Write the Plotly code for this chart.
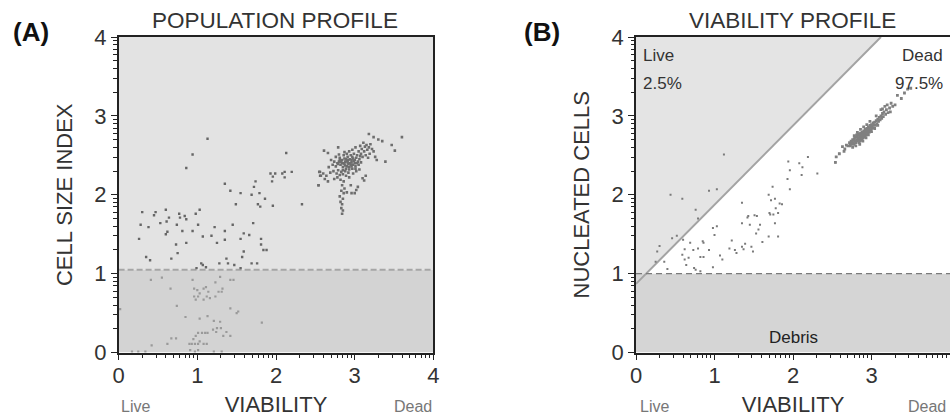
import plotly.graph_objects as go
import math

# ---------------- DATA ----------------
# Panel A : POPULATION PROFILE  (viability vs cell size index)
a_cluster_x = [2.78,2.80,2.82,2.84,2.86,2.88,2.90,2.92,2.94,2.96,2.98,3.00,3.02,3.04,2.85,2.87,2.89,2.91,2.93,2.95,
               2.97,2.99,3.01,3.03,3.06,3.08,3.10,3.12,3.14,3.16,2.76,2.74,2.72,2.70,2.79,2.81,2.83,2.86,2.88,2.90,
               2.92,2.94,2.96,2.98,3.00,2.84,2.88,2.92,2.96,3.05,3.09,3.13,3.18,3.20,3.07,3.11,3.15,3.22,3.24,3.19,
               3.17,3.05,3.08,2.93,2.97,3.01,2.87,2.80,2.76,2.73,2.77,2.81,2.85,2.89,2.93,2.98,3.02,3.06,2.69,2.67,
               2.82,2.86,2.84,2.87,2.83,2.86,2.81,2.85,2.82,2.84,2.83,2.85,2.84,2.90,2.96,3.00,3.02,3.04,2.95,3.10,
               3.12,3.14,2.78,2.74,2.64,2.60,2.57,2.55,2.54,2.62,2.66,
               3.60,3.47,3.51,3.39,3.35,3.18,3.24,3.30,3.26,3.28,2.61,2.79,2.66,
               2.83,2.91,2.99,2.87,2.95,3.03,2.79,2.89,2.97,2.85,2.93,3.01,2.81,2.90,3.07]
a_cluster_y = [2.40,2.42,2.38,2.44,2.40,2.37,2.43,2.39,2.45,2.41,2.38,2.44,2.47,2.42,2.35,2.46,2.33,2.48,2.35,2.50,
               2.33,2.52,2.36,2.50,2.45,2.52,2.48,2.55,2.50,2.57,2.36,2.42,2.38,2.44,2.31,2.47,2.29,2.50,2.30,2.52,
               2.28,2.40,2.36,2.46,2.40,2.40,2.42,2.44,2.44,2.55,2.58,2.61,2.60,2.64,2.62,2.66,2.63,2.58,2.55,2.52,
               2.47,2.38,2.41,2.55,2.57,2.60,2.54,2.51,2.48,2.30,2.27,2.25,2.26,2.24,2.22,2.27,2.30,2.32,2.28,2.35,
               2.19,2.17,2.12,2.08,2.05,2.02,1.98,1.95,1.91,1.88,1.83,1.80,1.76,2.03,2.02,2.02,2.06,2.10,2.12,2.21,
               2.18,2.24,2.22,2.20,2.24,2.27,2.24,2.29,2.12,2.20,2.17,
               2.73,2.63,2.56,2.42,2.68,2.77,2.73,2.70,2.48,2.44,2.56,2.60,2.53,
               2.42,2.41,2.43,2.39,2.38,2.40,2.39,2.45,2.48,2.31,2.32,2.33,2.44,2.36,2.49]

a_upper_x = [1.13,0.94,0.86,1.35,1.42,1.55,1.49,1.74,1.72,1.69,1.79,1.77,1.80,1.86,1.96,1.93,1.96,1.99,1.95,2.08,
             2.11,2.11,2.20,2.13,2.33,2.54,2.56,2.56,
             0.30,0.47,0.45,0.60,0.64,0.61,0.77,0.78,0.84,0.86,0.98,1.03,0.53,0.28,0.38,0.74,1.01,1.22,1.45,1.71,
             0.26,0.60,0.62,0.67,0.75,0.73,0.81,0.94,0.86,1.07,1.18,1.25,1.35,1.35,1.59,1.55,1.66,1.81,1.81,1.84,
             1.88,1.59,1.57,0.35,0.40,1.05,1.07,1.28,1.37,1.39,1.47,1.55,1.69,1.76,0.99,1.11]
a_upper_y = [2.71,2.51,2.34,2.14,2.05,2.02,1.88,2.17,2.10,2.00,2.02,1.88,1.85,1.95,1.86,2.27,2.23,2.27,2.17,2.27,
             2.29,2.22,2.29,2.53,1.88,2.12,2.29,2.24,
             1.78,1.78,1.74,1.81,1.71,1.66,1.76,1.71,1.73,1.69,1.76,1.81,1.64,1.62,1.59,1.62,1.62,1.59,1.62,1.64,
             1.44,1.50,1.53,1.19,1.26,1.37,1.54,1.54,1.39,1.47,1.48,1.39,1.54,1.43,1.51,1.44,1.49,1.44,1.37,1.30,
             1.30,1.28,1.21,1.21,1.17,1.13,1.11,1.13,1.19,1.13,1.11,1.07,1.13,1.13,1.07,1.08]

a_debris_x = [0.41,0.55,0.66,0.74,0.85,0.94,0.96,1.00,1.01,1.08,1.11,1.14,1.03,1.08,1.12,1.16,1.23,1.27,1.31,1.32,
              1.23,1.29,1.42,1.46,1.52,1.50,1.42,1.03,1.13,1.21,1.29,1.25,1.20,1.24,1.30,1.33,1.37,1.42,1.01,1.06,
              1.10,1.13,0.98,0.95,0.93,0.90,0.97,1.01,1.08,1.12,1.03,0.91,0.97,1.01,1.21,1.31,0.67,0.62,0.42,0.25,
              0.34,0.17,0.02,0.73,1.82,0.96,0.98]
a_debris_y = [0.92,0.95,0.81,0.59,0.45,0.92,0.81,0.79,0.71,0.81,0.83,0.77,0.75,0.67,0.71,0.69,0.71,0.77,0.77,0.81,
              0.89,0.96,0.92,0.92,0.52,0.50,0.56,0.43,0.46,0.40,0.39,0.31,0.29,0.26,0.31,0.21,0.26,0.21,0.25,0.25,
              0.25,0.25,0.21,0.17,0.11,0.11,0.11,0.11,0.11,0.11,0.14,0.03,0.01,0.03,0.01,0.01,0.18,0.11,0.09,0.01,
              0.01,0.01,0.55,0.18,0.38,0.71,0.67]

a_gate_y = 1.05  # size threshold

# Panel B : VIABILITY PROFILE  (viability vs nucleated cells)
b_cluster_x = [2.70,2.72,2.73,2.74,2.75,2.76,2.77,2.78,2.78,2.79,2.80,2.80,2.81,2.82,2.82,2.83,2.84,2.84,2.85,2.86,
               2.86,2.87,2.88,2.88,2.89,2.90,2.90,2.91,2.92,2.92,2.93,2.94,2.94,2.95,2.96,2.96,2.97,2.98,2.98,2.99,
               3.00,3.00,3.01,3.02,3.02,3.03,3.04,3.05,3.06,3.07,3.08,3.09,3.10,3.11,3.12,3.13,3.14,3.15,3.16,3.18,
               3.19,3.21,3.23,2.83,2.85,2.87,2.89,2.91,2.93,2.95,2.97,2.99,2.86,2.88,2.90,2.92,2.94,2.96,2.81,2.79,
               2.77,2.75,2.73,2.63,2.59,2.55,2.54,2.66,2.68,2.65,3.27,3.30,3.33,3.38,3.46,3.50,3.42,3.25,3.20,3.17,
               3.14,3.12,3.06,3.24,
               2.80,2.84,2.88,2.92,2.96,3.00,2.78,2.82,2.86,2.90,2.94,2.98,2.76,2.85,2.89,2.93,3.04,3.08]
b_cluster_y = [2.62,2.66,2.62,2.68,2.64,2.70,2.66,2.64,2.71,2.68,2.73,2.66,2.70,2.74,2.68,2.72,2.76,2.70,2.73,2.78,
               2.71,2.75,2.79,2.73,2.77,2.81,2.75,2.79,2.83,2.77,2.81,2.84,2.79,2.82,2.86,2.80,2.84,2.88,2.82,2.86,
               2.89,2.84,2.87,2.91,2.85,2.89,2.92,2.88,2.94,2.90,2.96,2.93,2.98,2.95,3.00,2.97,3.03,2.99,3.05,3.02,
               3.08,3.04,3.10,2.77,2.68,2.70,2.72,2.74,2.76,2.78,2.79,2.81,2.76,2.76,2.78,2.80,2.82,2.83,2.76,2.73,
               2.69,2.67,2.65,2.61,2.52,2.48,2.41,2.58,2.63,2.55,3.12,3.14,3.26,3.22,3.34,3.35,3.29,3.16,3.14,3.12,
               3.09,3.08,3.00,3.05,
               2.62,2.66,2.69,2.73,2.76,2.80,2.75,2.79,2.83,2.86,2.89,2.93,2.60,2.64,2.68,2.72,2.84,2.88]

b_scatter_x = [1.12,0.44,0.59,0.76,0.93,1.03,0.79,
               1.35,1.42,1.51,1.74,1.69,1.72,1.77,1.83,1.86,1.78,1.81,1.71,1.94,1.96,1.93,1.96,2.08,2.12,2.11,2.19,
               2.31,2.54,2.55,2.59,0.98,1.03,1.00,1.43,1.35,1.45,1.54,1.58,1.56,1.53,1.61,1.69,1.75,1.70,1.81,1.77,
               0.30,0.27,0.25,0.36,0.40,0.46,0.52,0.60,0.62,0.59,0.62,0.67,0.64,0.69,0.73,0.79,0.85,0.86,0.93,0.82,
               0.86,0.74,0.76,0.82,0.98,1.07,1.10,1.22,1.19,1.28,1.26,1.35,1.39,1.37,1.47,1.49]
b_scatter_y = [2.51,2.00,1.95,1.81,2.05,2.07,1.70,
               1.90,1.71,1.74,2.10,2.00,1.93,1.95,1.89,1.88,1.83,1.77,1.75,2.42,2.31,2.20,2.07,2.40,2.35,2.25,2.48,
               2.27,2.41,2.48,2.52,1.58,1.60,1.49,1.73,1.64,1.62,1.73,1.62,1.56,1.51,1.40,1.47,1.75,1.77,1.47,1.64,
               1.35,1.28,1.15,1.15,1.06,1.45,1.48,1.43,1.31,1.24,1.18,1.20,1.11,1.39,1.30,1.32,1.41,1.39,1.30,1.21,
               1.21,1.07,1.05,1.03,1.08,1.23,1.18,1.42,1.32,1.26,1.30,1.34,1.38,1.31,1.34,1.28]

b_gate_line = [(0.0, 0.87), (3.12, 4.0)]   # live / dead separator (data space)
b_debris_y = 1.0

axis_ticks = [0, 1, 2, 3, 4]
minor_ticks = [d + math.log10(m) for d in range(4) for m in range(2, 10)]

# ---------------- FIGURE ----------------
FONT = "Liberation Sans, Arial, sans-serif"
fig = go.Figure()

fig.add_trace(go.Scatter(x=a_debris_x, y=a_debris_y, mode="markers", xaxis="x", yaxis="y",
                         marker=dict(symbol="square", size=2.2, color="#9a9a9a", line=dict(width=0)),
                         showlegend=False, hoverinfo="skip"))
fig.add_trace(go.Scatter(x=a_upper_x, y=a_upper_y, mode="markers", xaxis="x", yaxis="y",
                         marker=dict(symbol="square", size=2.4, color="#666666", line=dict(width=0)),
                         showlegend=False))
fig.add_trace(go.Scatter(x=a_cluster_x, y=a_cluster_y, mode="markers", xaxis="x", yaxis="y",
                         marker=dict(symbol="square", size=2.6, color="#6e6e6e", line=dict(width=0)),
                         showlegend=False))
fig.add_trace(go.Scatter(x=b_scatter_x, y=b_scatter_y, mode="markers", xaxis="x2", yaxis="y2",
                         marker=dict(symbol="square", size=2.0, color="#7a7a7a", line=dict(width=0)),
                         showlegend=False))
fig.add_trace(go.Scatter(x=b_cluster_x, y=b_cluster_y, mode="markers", xaxis="x2", yaxis="y2",
                         marker=dict(symbol="square", size=2.8, color="#808080", line=dict(width=0)),
                         showlegend=False))

shapes = []
# Panel A backgrounds
shapes.append(dict(type="rect", xref="x", yref="y", x0=0, x1=4, y0=a_gate_y, y1=4,
                   fillcolor="#e3e3e3", line=dict(width=0), layer="below"))
shapes.append(dict(type="rect", xref="x", yref="y", x0=0, x1=4, y0=0, y1=a_gate_y,
                   fillcolor="#d3d3d3", line=dict(width=0), layer="below"))
shapes.append(dict(type="line", xref="x", yref="y", x0=0, x1=4, y0=a_gate_y, y1=a_gate_y,
                   line=dict(color="#a6a6a6", width=2, dash="6px,3px"), layer="below"))
# Panel B backgrounds
(gx0, gy0), (gx1, gy1) = b_gate_line
shapes.append(dict(type="path", xref="x2", yref="y2",
                   path=f"M {gx0},{gy0} L {gx1},{gy1} L 0,4 Z",
                   fillcolor="#e4e4e4", line=dict(width=0), layer="below"))
shapes.append(dict(type="rect", xref="x2", yref="y2", x0=0, x1=4, y0=0, y1=b_debris_y,
                   fillcolor="#d5d5d5", line=dict(width=0), layer="below"))
shapes.append(dict(type="line", xref="x2", yref="y2", x0=gx0, y0=gy0, x1=gx1, y1=gy1,
                   line=dict(color="#a3a3a3", width=2), layer="below"))
shapes.append(dict(type="line", xref="x2", yref="y2", x0=0, x1=4, y0=b_debris_y, y1=b_debris_y,
                   line=dict(color="#7a7a7a", width=1.3, dash="6px,4px"), layer="below"))

axis_common = dict(range=[0, 4], tickvals=axis_ticks, ticktext=[str(t) for t in axis_ticks],
                   showgrid=False, zeroline=False, showline=True, linecolor="#222222", linewidth=1.5,
                   mirror=True, ticks="outside", ticklen=6, tickwidth=1.2, tickcolor="#222222",
                   tickfont=dict(family=FONT, size=22, color="#333333"),
                   minor=dict(tickvals=minor_ticks, ticks="outside", ticklen=3.5, tickwidth=1,
                              tickcolor="#222222", showgrid=False),
                   automargin=False, fixedrange=True)

TF = dict(family=FONT, size=22, color="#333333")
ydom = [1 - 352.5 / 417, 1 - 37 / 417]
fig.update_layout(
    width=950, height=417, margin=dict(l=0, r=0, t=0, b=0, autoexpand=False),
    paper_bgcolor="white", plot_bgcolor="white",
    xaxis=dict(domain=[118.6 / 950, 433.4 / 950], anchor="y", **axis_common, ticklabelstandoff=-4,
               title=dict(text="VIABILITY", font=TF, standoff=10)),
    yaxis=dict(domain=ydom, anchor="x", **axis_common,
               title=dict(text="CELL SIZE INDEX", font=TF, standoff=16)),
    xaxis2=dict(domain=[636 / 950, 1.0], anchor="y2", **axis_common, ticklabelstandoff=-4,
                title=dict(text="VIABILITY", font=TF, standoff=10)),
    yaxis2=dict(domain=ydom, anchor="x2", **axis_common,
                title=dict(text="NUCLEATED CELLS", font=TF, standoff=16)),
    shapes=shapes,
)

ann = []
def txt(x, y, s, size, color="#333333", bold=False, xanchor="center", xref="paper", yref="paper"):
    ann.append(dict(x=x, y=y, xref=xref, yref=yref, text=(f"<b>{s}</b>" if bold else s), showarrow=False,
                    xanchor=xanchor, yanchor="middle",
                    font=dict(family=FONT, size=size, color=color)))

txt(275 / 950, 1 - 20 / 417, "POPULATION PROFILE", 22.5)
txt(792.5 / 950, 1 - 20 / 417, "VIABILITY PROFILE", 22.5)
txt(31 / 950, 1 - 32 / 417, "(A)", 26, color="#111111", bold=True)
txt(541.7 / 950, 1 - 32 / 417, "(B)", 26, color="#111111", bold=True)
txt(135.7 / 950, 1 - 406 / 417, "Live", 16, color="#777777")
txt(413 / 950, 1 - 406 / 417, "Dead", 16, color="#777777")
txt(654 / 950, 1 - 406 / 417, "Live", 16, color="#777777")
txt(948 / 950, 1 - 406 / 417, "Dead", 16, color="#777777", xanchor="right")
txt(641 / 950, 1 - 55 / 417, "Live", 17, xanchor="left")
txt(641 / 950, 1 - 83 / 417, "2.5%", 17, xanchor="left")
txt(945 / 950, 1 - 55 / 417, "Dead", 17, xanchor="right")
txt(945 / 950, 1 - 83 / 417, "97.5%", 17, xanchor="right")
txt(793 / 950, 1 - 337 / 417, "Debris", 17, color="#222222")
fig.update_layout(annotations=ann)

fig.write_html("out.html")
